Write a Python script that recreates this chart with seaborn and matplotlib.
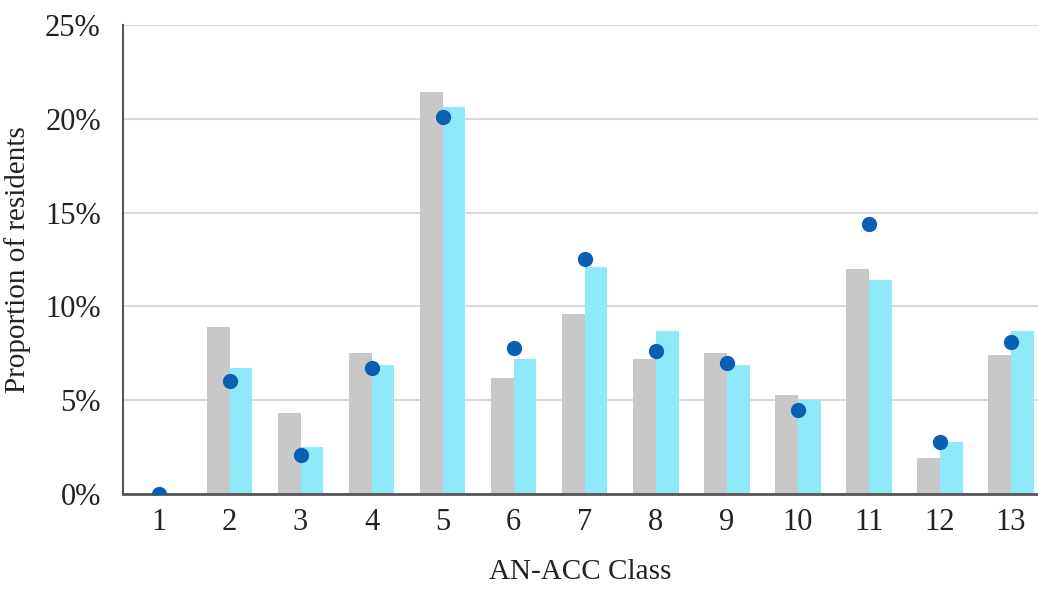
import matplotlib
matplotlib.use("Agg")
import matplotlib.pyplot as plt
from matplotlib.ticker import PercentFormatter, MultipleLocator
import seaborn as sns
import pandas as pd

# AN-ACC classes and proportions (%)
classes = [str(i) for i in range(1, 14)]
grey_vals = [0.0, 8.9, 4.3, 7.5, 21.4, 6.2, 9.6, 7.2, 7.5, 5.3, 12.0, 1.9, 7.4]
cyan_vals = [0.0, 6.7, 2.5, 6.9, 20.6, 7.2, 12.1, 8.7, 6.9, 5.0, 11.4, 2.8, 8.7]
dot_vals = [0.0, 6.0, 2.1, 6.7, 20.1, 7.8, 12.5, 7.6, 7.0, 4.5, 14.4, 2.8, 8.1]

df = pd.DataFrame({
    "cls": classes * 2,
    "val": grey_vals + cyan_vals,
    "grp": ["a"] * len(classes) + ["b"] * len(classes),
})
dots = pd.DataFrame({"cls": classes, "val": dot_vals})

sns.set_style("white")
plt.rcParams["font.family"] = ["Liberation Serif", "DejaVu Serif"]

fig = plt.figure(figsize=(10.38, 5.91), dpi=100)
ax = fig.add_axes([0.1185, 0.164, 0.8815, 0.794])

sns.barplot(data=df, x="cls", y="val", hue="grp", order=classes,
            palette={"a": "#c8c8c8", "b": "#8ee9fa"}, width=0.64,
            saturation=1, legend=False, linewidth=0, ax=ax, zorder=2)
sns.stripplot(data=dots, x="cls", y="val", order=classes, jitter=False,
              color="#0b5fb3", size=11, ax=ax, zorder=4)

ax.set_ylim(0, 25)
ax.set_xlim(-0.5, 12.38)
ax.yaxis.set_major_locator(MultipleLocator(5))
ax.yaxis.set_major_formatter(PercentFormatter(decimals=0))
ax.grid(axis="y", color="#d9d9d9", linewidth=1.5, zorder=0)
ax.set_axisbelow(True)

for s in ["top", "right"]:
    ax.spines[s].set_visible(False)
ax.spines["left"].set_color("#555555")
ax.spines["bottom"].set_color("#555555")
ax.spines["left"].set_linewidth(1.5)
ax.spines["bottom"].set_linewidth(2)

ax.tick_params(axis="both", length=0, labelsize=22, colors="#222222")
ax.tick_params(axis="y", pad=16)
ax.tick_params(axis="x", pad=10)
ax.set_xlabel("AN-ACC Class", fontsize=21, color="#222222", labelpad=16)
ax.set_ylabel("Proportion of residents", fontsize=21, color="#222222", labelpad=10)

fig.savefig("out.png", dpi=100)
